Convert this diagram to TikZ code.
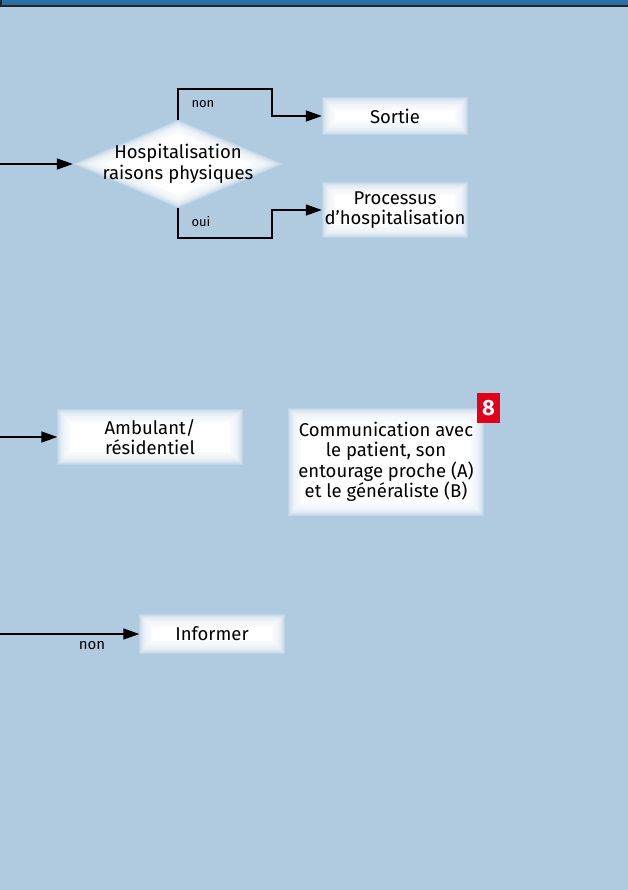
\documentclass[tikz,border=0pt]{standalone}
\usepackage{fontspec}
\setmainfont{Fira Sans}
\usetikzlibrary{arrows.meta,shapes.geometric,backgrounds}
\definecolor{bgblue}{RGB}{176,203,224}
\definecolor{barblue}{RGB}{44,110,168}
\definecolor{badgered}{RGB}{226,0,26}
\tikzset{
  box/.style={rectangle, inner sep=0pt, align=center, font=\fontsize{18.5}{20.5}\selectfont},
  decision/.style={diamond, shape aspect=2.4, inner sep=-5pt, align=center,
    font=\fontsize{18.5}{20.5}\selectfont},
  arr/.style={line width=1.5pt, -{Triangle[length=16pt,width=11pt]}},
  lbl/.style={font=\fontsize{13}{15}\selectfont},
}
\begin{document}
\begin{tikzpicture}[x=1pt,y=1pt]
  \useasboundingbox (0,0) rectangle (628,-890);
  % nodes
  \node[decision] (dec) at (178,-164) {Hospitalisation\\raisons physiques};
  \node[box, minimum width=146pt, minimum height=38pt] (sortie) at (395,-116) {Sortie};
  \node[box, minimum width=146pt, minimum height=56pt] (hosp) at (395,-210) {Processus\\d’hospitalisation};
  \node[box, minimum width=185pt, minimum height=55pt] (ambul) at (150,-437) {Ambulant/\\résidentiel};
  \node[box, minimum width=196pt, minimum height=108pt] (comm) at (386,-462) {Communication avec\\le patient, son\\entourage proche (A)\\et le généraliste (B)};
  \node[box, minimum width=145pt, minimum height=40pt] (inf) at (212,-634) {Informer};
  \node[fill=badgered, text=white, inner sep=0pt, minimum width=23pt, minimum height=30pt,
    font=\fontsize{22}{22}\selectfont\bfseries] (badge) at (488.5,-408) {8};
  % free ends
  \coordinate (in1) at (0,-164);
  \coordinate (in2) at (0,-437);
  \coordinate (in3) at (0,-634);
  \coordinate (nonbend) at (272,-89);
  \coordinate (ouibend) at (272,-238);
  % connectors
  \draw[arr] (in1) -- (dec.west);
  \draw[arr] (dec.north) |- (nonbend) |- (sortie.west);
  \draw[arr] (dec.south) |- (ouibend) |- (hosp.west);
  \draw[arr] (in2) -- (ambul.west);
  \draw[arr] (in3) -- (inf.west);
  \node[lbl, anchor=west] at (188,-104) {non};
  \node[lbl, anchor=west] at (188,-222) {oui};
  \node[lbl, font=\fontsize{15}{17}\selectfont] at (92,-646) {non};
  % background and glow
  \begin{scope}[on background layer]
    \fill[bgblue] (0,0) rectangle (628,-890);
    \fill[barblue] (0,0) rectangle (628,-5);
    \fill[black!85] (0,-5) rectangle (628,-7);
    \fill[black!85] (0,0) rectangle (2,-7);
    \foreach \n in {sortie,hosp,ambul,comm,inf}{
      \foreach \i in {0,...,12}
        \fill[white,opacity=0.2] ([shift={(\i,\i)}]\n.south west) rectangle ([shift={(-\i,-\i)}]\n.north east);
      \fill[white] ([shift={(13,13)}]\n.south west) rectangle ([shift={(-13,-13)}]\n.north east);
    }
    \foreach \i in {0,...,12}
      \fill[white,opacity=0.2] ([yshift=-\i]dec.north) -- ([xshift=-2.4*\i]dec.east)
        -- ([yshift=\i]dec.south) -- ([xshift=2.4*\i]dec.west) -- cycle;
    \fill[white] ([yshift=-13]dec.north) -- ([xshift=-31.2]dec.east)
        -- ([yshift=13]dec.south) -- ([xshift=31.2]dec.west) -- cycle;
  \end{scope}
\end{tikzpicture}
\end{document}
